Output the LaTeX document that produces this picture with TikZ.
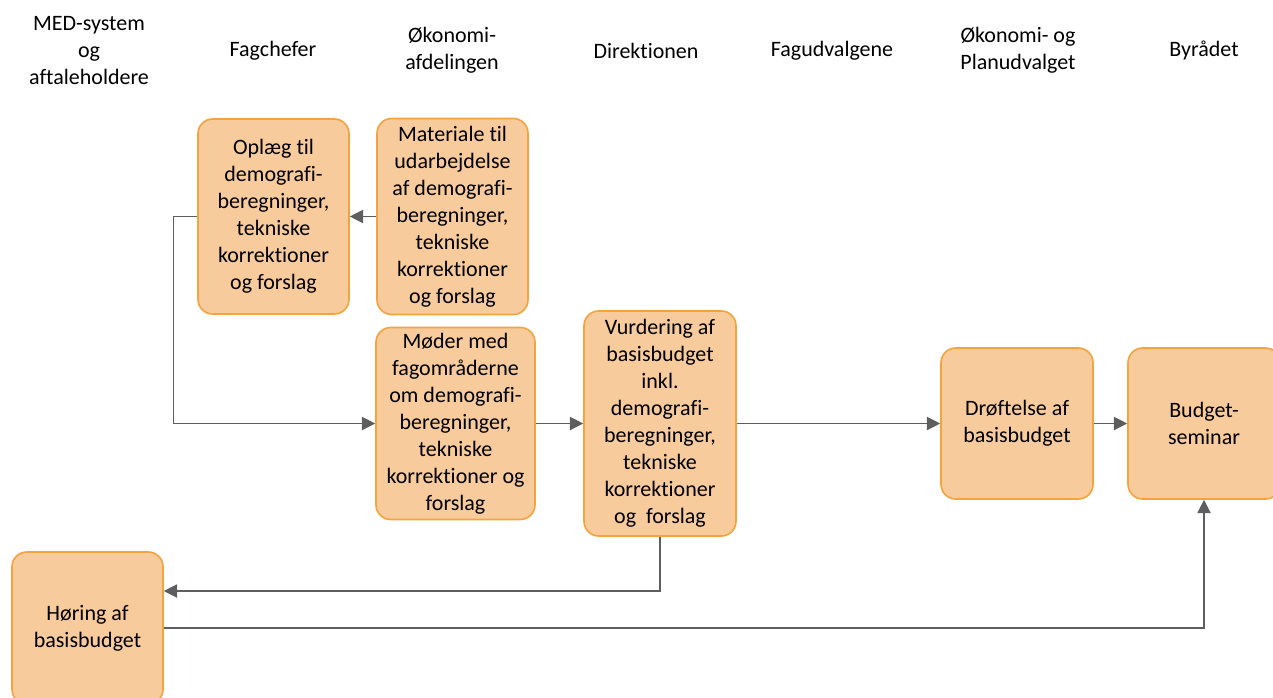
\documentclass[tikz,border=0pt]{standalone}
\usepackage{fontspec}
\setmainfont{Carlito}[Ligatures={NoCommon}]
\usetikzlibrary{arrows.meta}
\definecolor{peach}{HTML}{F7CB9B}
\definecolor{orangeb}{HTML}{F4A33E}
\definecolor{lgray}{HTML}{5E5E5E}
\tikzset{
  box/.style={draw=orangeb, fill=peach, line width=1.2pt, rounded corners=11pt, align=center, inner sep=0pt, font=\fontsize{16.5}{20.25}\selectfont},
  head/.style={align=center, inner sep=0pt, font=\fontsize{16.5}{20.25}\selectfont},
  conn/.style={draw=lgray, line width=0.9pt, -{Triangle[length=10pt,width=10pt]}}
}
\begin{document}
\begin{tikzpicture}[x=0.75pt,y=-0.75pt]
\useasboundingbox (0,0) rectangle (1273,697);
% headers
\node[head] (h1) at (89,50.5) {MED-system\\og\\aftaleholdere};
\node[head] (h2) at (273,50.5) {Fagchefer};
\node[head] (h3) at (452,50.5) {Økonomi-\\afdelingen};
\node[head] (h4) at (646,50.5) {Direktionen};
\node[head] (h5) at (832,50.5) {Fagudvalgene};
\node[head] (h6) at (1018,50.5) {Økonomi- og\\Planudvalget};
\node[head] (h7) at (1204,50.5) {Byrådet};
% boxes
\node[box, minimum width=113.25pt, minimum height=146.25pt] (oplaeg) at (273.5,216.5) {Oplæg til\\demografi-\\beregninger,\\tekniske\\korrektioner\\og forslag};
\node[box, minimum width=113.25pt, minimum height=147pt] (mat) at (452.5,216.5) {Materiale til\\udarbejdelse\\af demografi-\\beregninger,\\tekniske\\korrektioner\\og forslag};
\node[box, minimum width=119.25pt, minimum height=144pt] (moder) at (455.5,423.5) {Møder med\\fagområderne\\om demografi-\\beregninger,\\tekniske\\korrektioner og\\forslag};
\node[box, minimum width=114pt, minimum height=168.75pt] (vurd) at (660,423.5) {Vurdering af\\basisbudget\\inkl.\\demografi-\\beregninger,\\tekniske\\korrektioner\\og~~forslag};
\node[box, minimum width=114pt, minimum height=113.25pt] (droft) at (1017,423.5) {Drøftelse af\\basisbudget};
\node[box, minimum width=114pt, minimum height=113.25pt] (budget) at (1204,423.5) {Budget-\\seminar};
\node[box, minimum width=113.25pt, minimum height=114pt] (horing) at (87.5,628) {Høring af\\basisbudget};
% connectors
\draw[conn] (mat.west) -- (oplaeg.east);
\draw[conn] (oplaeg.west) -- ++(-24,0) |- (moder.west);
\draw[conn] (moder.east) -- (moder.east -| vurd.west);
\draw[conn] (vurd.east) -- (droft.west);
\draw[conn] (droft.east) -- (budget.west);
\draw[conn] (vurd.south) |- ([yshift=27.75pt]horing.east);
\draw[conn] (horing.east) -| (budget.south);
\end{tikzpicture}
\end{document}
